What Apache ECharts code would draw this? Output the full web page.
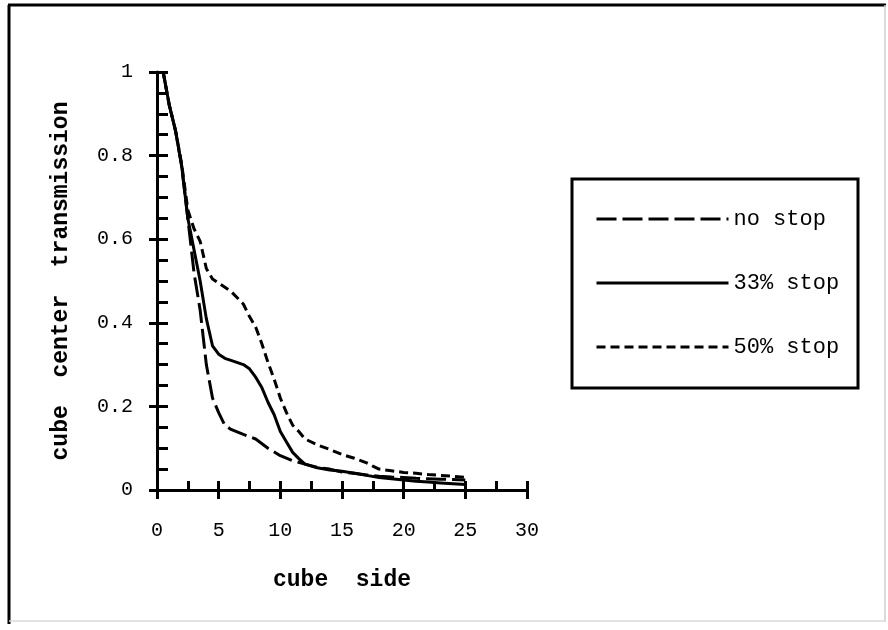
<!DOCTYPE html>
<html>
<head>
<meta charset="utf-8">
<script src="https://cdn.jsdelivr.net/npm/echarts@6/dist/echarts.min.js"></script>
<style>
html,body{margin:0;padding:0;background:#fff;}
#chart{width:888px;height:630px;}
</style>
</head>
<body>
<div id="chart"></div>
<script>
var seriesNames = ['no stop', '33% stop', '50% stop'];
var xTickLabels = ['0', '5', '10', '15', '20', '25', '30'];
var yTickLabels = ['0', '0.2', '0.4', '0.6', '0.8', '1'];

var noStopX = [0.5, 1, 1.5, 2, 2.5, 3, 3.5, 4, 4.5, 5, 5.5, 6, 7, 8, 9, 10, 11, 12, 13, 14, 15, 16, 17, 18, 19, 20, 21, 22, 23, 24, 25];
var noStopY = [1.0, 0.92, 0.86, 0.775, 0.65, 0.52, 0.43, 0.3, 0.22, 0.185, 0.155, 0.145, 0.133, 0.122, 0.1, 0.082, 0.07, 0.062, 0.054, 0.05, 0.043, 0.04, 0.036, 0.033, 0.031, 0.03, 0.028, 0.027, 0.026, 0.025, 0.024];

var stop33X = [0.5, 1, 1.5, 2, 2.5, 3, 3.5, 4, 4.5, 5, 5.5, 6, 7, 7.5, 8, 8.5, 9, 9.5, 10, 10.5, 11, 11.5, 12, 13, 14, 15, 16, 17, 18, 19, 20, 21, 22, 23, 24, 25];
var stop33Y = [1.0, 0.92, 0.86, 0.775, 0.65, 0.575, 0.5, 0.41, 0.345, 0.325, 0.315, 0.31, 0.3, 0.29, 0.27, 0.245, 0.21, 0.18, 0.14, 0.115, 0.09, 0.075, 0.062, 0.053, 0.048, 0.045, 0.04, 0.035, 0.03, 0.027, 0.024, 0.021, 0.019, 0.017, 0.015, 0.013];

var stop50X = [0.5, 1, 1.5, 2, 2.5, 3, 3.5, 4, 4.5, 5, 6, 7, 7.5, 8, 8.5, 9, 9.5, 10, 10.5, 11, 11.5, 12, 13, 14, 15, 16, 17, 17.5, 18, 19, 20, 21, 22, 23, 24, 25];
var stop50Y = [1.0, 0.92, 0.86, 0.78, 0.67, 0.625, 0.595, 0.53, 0.505, 0.495, 0.475, 0.445, 0.415, 0.39, 0.35, 0.305, 0.265, 0.22, 0.185, 0.155, 0.14, 0.122, 0.108, 0.097, 0.085, 0.076, 0.065, 0.057, 0.05, 0.046, 0.042, 0.04, 0.037, 0.035, 0.033, 0.03];

function pairs(xs, ys) {
  var out = [];
  for (var i = 0; i < xs.length; i++) out.push([xs[i], ys[i]]);
  return out;
}

var MONO = '"Liberation Mono", "DejaVu Sans Mono", monospace';
var chart = echarts.init(document.getElementById('chart'), null, {renderer: 'canvas'});

function lineSeries(name, data, type) {
  return {
    name: name,
    type: 'line',
    data: data,
    xAxisIndex: 0,
    yAxisIndex: 0,
    symbol: 'none',
    showSymbol: false,
    smooth: false,
    animation: false,
    lineStyle: {color: '#000', width: 3, type: type},
    itemStyle: {color: '#000'}
  };
}

var option = {
  backgroundColor: '#fff',
  animation: false,
  grid: {left: 157, top: 72, width: 370, height: 418, containLabel: false},
  xAxis: [{
    type: 'value', min: 0, max: 30, interval: 5,
    name: 'cube  side', nameLocation: 'middle', nameGap: 79,
    nameTextStyle: {fontFamily: MONO, fontSize: 23, fontWeight: 'bold', color: '#000'},
    axisLine: {show: true, lineStyle: {color: '#000', width: 3}},
    axisTick: {show: true, inside: false, length: 9, lineStyle: {color: '#000', width: 3}},
    axisLabel: {
      margin: 31, fontFamily: MONO, fontSize: 20, color: '#000',
      formatter: function (v) { var i = Math.round(v / 5); return xTickLabels[i] !== undefined ? xTickLabels[i] : ''; }
    },
    splitLine: {show: false}
  }, {
    type: 'value', min: 0, max: 30, interval: 2.5, position: 'bottom', offset: 0,
    axisLine: {show: false},
    axisTick: {show: true, inside: true, length: 9, lineStyle: {color: '#000', width: 3}},
    axisLabel: {show: false},
    splitLine: {show: false}
  }],
  yAxis: [{
    type: 'value', min: 0, max: 1, interval: 0.2,
    name: 'cube  center  transmission', nameLocation: 'middle', nameGap: 84,
    nameTextStyle: {fontFamily: MONO, fontSize: 23, fontWeight: 'bold', color: '#000'},
    axisLine: {show: true, lineStyle: {color: '#000', width: 3}},
    axisTick: {show: true, inside: false, length: 8, lineStyle: {color: '#000', width: 3}},
    axisLabel: {
      margin: 24, fontFamily: MONO, fontSize: 20, color: '#000',
      formatter: function (v) { var i = Math.round(v / 0.2); return yTickLabels[i] !== undefined ? yTickLabels[i] : ''; }
    },
    splitLine: {show: false}
  }, {
    type: 'value', min: 0, max: 1, interval: 0.05, position: 'left', offset: 0,
    axisLine: {show: false},
    axisTick: {show: true, inside: true, length: 11, lineStyle: {color: '#000', width: 3}},
    axisLabel: {show: false},
    splitLine: {show: false}
  }],
  legend: {
    data: seriesNames,
    orient: 'vertical',
    left: 595, top: 207,
    itemWidth: 132, itemHeight: 14, itemGap: 40,
    padding: 0,
    itemStyle: {color: 'rgba(0,0,0,0)', borderWidth: 0, opacity: 0},
    lineStyle: {width: 3, color: '#000'},
    textStyle: {fontFamily: MONO, fontSize: 22, color: '#000', lineHeight: 24},
    selectedMode: false
  },
  series: [
    lineSeries(seriesNames[0], pairs(noStopX, noStopY), [20, 6]),
    lineSeries(seriesNames[1], pairs(stop33X, stop33Y), 'solid'),
    lineSeries(seriesNames[2], pairs(stop50X, stop50Y), [9, 5])
  ],
  graphic: [
    {type: 'line', silent: true, shape: {x1: 8, y1: 5, x2: 886, y2: 5}, style: {stroke: '#000', lineWidth: 3}},
    {type: 'line', silent: true, shape: {x1: 9, y1: 5, x2: 9, y2: 624}, style: {stroke: '#000', lineWidth: 3}},
    {type: 'line', silent: true, shape: {x1: 885, y1: 5, x2: 885, y2: 622}, style: {stroke: '#cfcfcf', lineWidth: 1.5}},
    {type: 'line', silent: true, shape: {x1: 9, y1: 621, x2: 885, y2: 621}, style: {stroke: '#d8d8d8', lineWidth: 1.5}},
    {type: 'rect', silent: true, shape: {x: 572, y: 179, width: 286, height: 209}, style: {fill: null, stroke: '#000', lineWidth: 3}}
  ]
};
chart.setOption(option);
</script>
</body>
</html>
